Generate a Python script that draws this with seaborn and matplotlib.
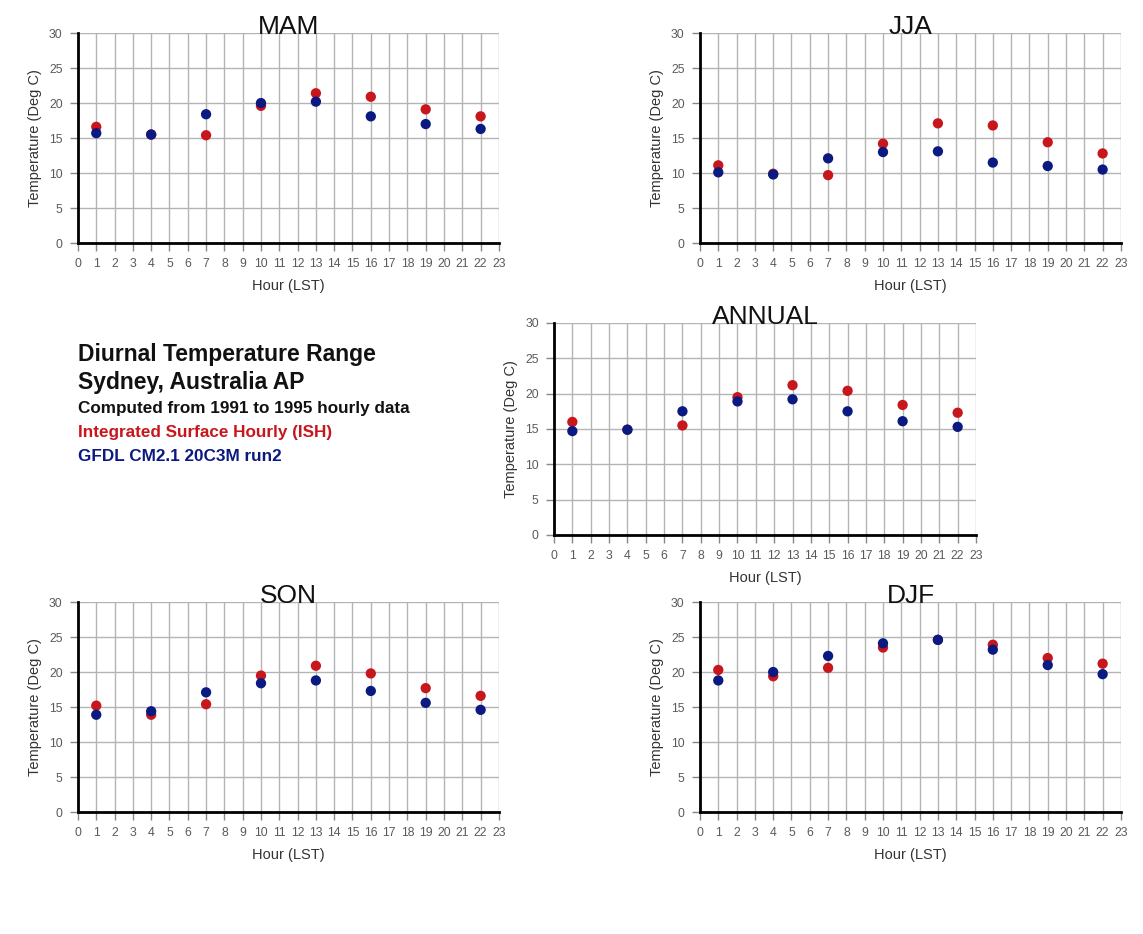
import numpy as np
import pandas as pd
import matplotlib
matplotlib.use('Agg')
import matplotlib.pyplot as plt
import seaborn as sns

# ── data ──────────────────────────────────────────────────
hours = [1, 4, 7, 10, 13, 16, 19, 22]

mam_ish  = [16.6, 15.5, 15.4, 19.6, 21.4, 20.9, 19.1, 18.1]
mam_gfdl = [15.7, 15.5, 18.4, 20.0, 20.2, 18.1, 17.0, 16.3]

jja_ish  = [11.1, 9.9, 9.7, 14.2, 17.1, 16.8, 14.4, 12.8]
jja_gfdl = [10.1, 9.8, 12.1, 13.0, 13.1, 11.5, 11.0, 10.5]

ann_ish  = [16.0, 14.9, 15.5, 19.5, 21.2, 20.4, 18.4, 17.3]
ann_gfdl = [14.7, 14.9, 17.5, 18.9, 19.2, 17.5, 16.1, 15.3]

son_ish  = [15.2, 13.9, 15.4, 19.5, 20.9, 19.8, 17.7, 16.6]
son_gfdl = [13.9, 14.4, 17.1, 18.4, 18.8, 17.3, 15.6, 14.6]

djf_ish  = [20.3, 19.4, 20.6, 23.5, 24.6, 23.9, 22.0, 21.2]
djf_gfdl = [18.8, 20.0, 22.3, 24.1, 24.6, 23.2, 21.0, 19.7]

SRC_OBS = 'Integrated Surface Hourly (ISH)'
SRC_MOD = 'GFDL CM2.1 20C3M run2'
COLORS = {SRC_OBS: '#c8161d', SRC_MOD: '#0b1a80'}

panels = {
    'MAM':    (mam_ish, mam_gfdl, [0.0682, 0.7398, 0.3683, 0.2248]),
    'JJA':    (jja_ish, jja_gfdl, [0.6124, 0.7398, 0.3683, 0.2248]),
    'ANNUAL': (ann_ish, ann_gfdl, [0.4847, 0.4272, 0.3692, 0.2270]),
    'SON':    (son_ish, son_gfdl, [0.0682, 0.1306, 0.3683, 0.2248]),
    'DJF':    (djf_ish, djf_gfdl, [0.6124, 0.1306, 0.3683, 0.2248]),
}

# ── style ─────────────────────────────────────────────────
sns.set_style('white')
plt.rcParams['font.family'] = ['Liberation Sans', 'DejaVu Sans']

fig = plt.figure(figsize=(11.43, 9.34), dpi=100)
fig.patch.set_facecolor('white')

for name, (obs, mod, rect) in panels.items():
    ax = fig.add_axes(rect)
    df = pd.DataFrame({
        'hour': hours + hours,
        'temp': obs + mod,
        'src':  [SRC_OBS] * len(hours) + [SRC_MOD] * len(hours),
    })
    sns.scatterplot(data=df, x='hour', y='temp', hue='src', palette=COLORS,
                    s=55, linewidth=0, legend=False, ax=ax, zorder=3)

    ax.set_xlim(0, 23)
    ax.set_ylim(0, 30)
    ax.set_xticks(range(0, 24))
    ax.set_yticks(range(0, 31, 5))
    ax.grid(True, color='#b4b4b4', linewidth=1.0)
    ax.set_axisbelow(True)

    for s in ['top', 'right']:
        ax.spines[s].set_visible(False)
    for s in ['left', 'bottom']:
        ax.spines[s].set_color('black')
        ax.spines[s].set_linewidth(2.0)
        ax.spines[s].set_zorder(4)

    ax.tick_params(axis='both', which='major', length=6, width=1,
                   color='#888888', labelcolor='#5a5a5a', labelsize=8.8,
                   left=True, bottom=True, pad=5)
    ax.set_xlabel('Hour (LST)', fontsize=10.5, color='#333333', labelpad=6)
    ax.set_ylabel('Temperature (Deg C)', fontsize=10.5, color='#333333', labelpad=5)
    ax.set_title(name, fontsize=19, color='#111111', pad=-1)

# ── text block ────────────────────────────────────────────
tx = 78 / 1143
fig.text(tx, 1 - 355 / 934, 'Diurnal Temperature Range', fontsize=16.5,
         fontweight='bold', color='#111111', va='center')
fig.text(tx, 1 - 383 / 934, 'Sydney, Australia AP', fontsize=16.5,
         fontweight='bold', color='#111111', va='center')
fig.text(tx, 1 - 408 / 934, 'Computed from 1991 to 1995 hourly data',
         fontsize=12.3, fontweight='bold', color='#111111', va='center')
fig.text(tx, 1 - 433 / 934, SRC_OBS, fontsize=12.3, fontweight='bold',
         color=COLORS[SRC_OBS], va='center')
fig.text(tx, 1 - 457 / 934, SRC_MOD, fontsize=12.3, fontweight='bold',
         color=COLORS[SRC_MOD], va='center')

fig.savefig('out.png', dpi=100, facecolor='white')
